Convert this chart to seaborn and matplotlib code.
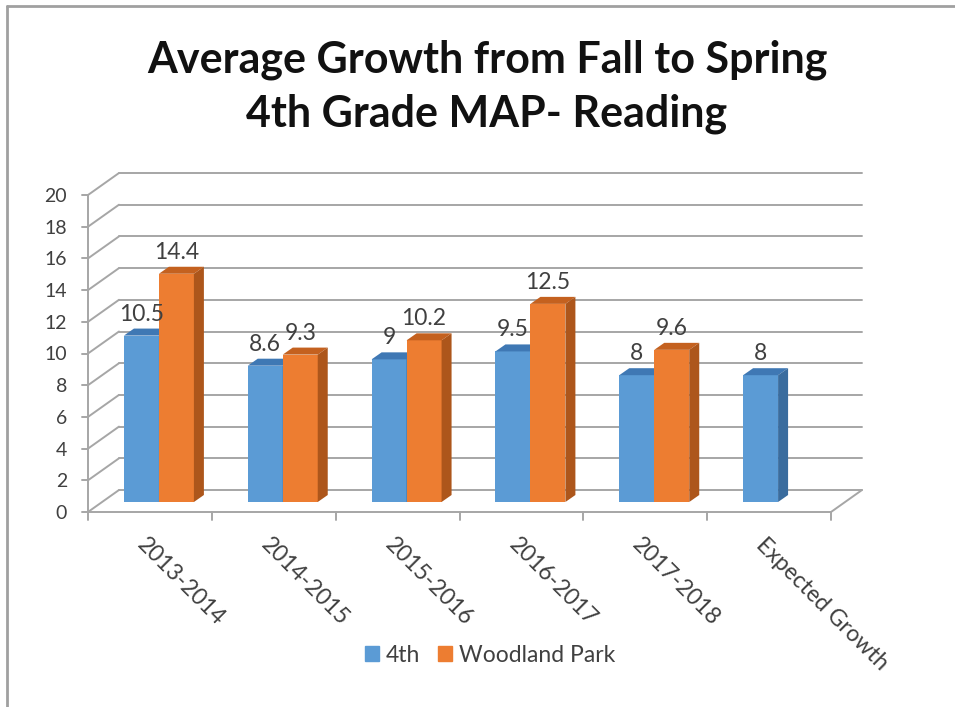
import matplotlib
matplotlib.use('Agg')
import matplotlib.pyplot as plt
from matplotlib.lines import Line2D
from matplotlib.patches import Polygon, Patch
from matplotlib.transforms import IdentityTransform
import seaborn as sns
import pandas as pd
import numpy as np

# donnees
categories = ['2013-2014', '2014-2015', '2015-2016', '2016-2017', '2017-2018', 'Expected Growth']
fourth = [10.5, 8.6, 9, 9.5, 8, 8]
woodland = [14.4, 9.3, 10.2, 12.5, 9.6, np.nan]
series_names = ['4th', 'Woodland Park']
yticks = list(range(0, 21, 2))

blue, orange = '#5b9bd5', '#ed7d31'
faces = {blue: ('#3f78b4', '#3a6c9e'), orange: ('#c4611f', '#ad561b')}
gray = '#a6a6a6'
txt = '#404040'

sns.set_style('white')
plt.rcParams['font.family'] = ['Lato', 'DejaVu Sans']

df = pd.DataFrame({
    'cat': categories * 2,
    'val': fourth + woodland,
    'serie': [series_names[0]] * len(categories) + [series_names[1]] * len(categories),
})

fig = plt.figure(figsize=(9.55, 7.07), dpi=100)
# plan des faces avant des barres
ax = fig.add_axes([97 / 955, 205 / 707, 743 / 955, 317 / 707])
sns.barplot(data=df, x='cat', y='val', hue='serie', palette=[blue, orange],
            width=0.565, saturation=1, errorbar=None, legend=False, ax=ax)
ax.set_xlim(-0.5, len(categories) - 0.5)
ax.set_ylim(0, 20)
ax.axis('off')

ident = IdentityTransform()
front_off = np.array([-9, -10])
back_off = np.array([22, 12])
depth = np.array([10, 7])


def P(x, y, off=(0, 0)):
    return ax.transData.transform((x, y)) + np.array(off)


def seg(p, q, z=1, color=gray, lw=1.4):
    ax.add_line(Line2D([p[0], q[0]], [p[1], q[1]], transform=ident, color=color,
                       lw=lw, clip_on=False, zorder=z))


x_lo, x_hi = -0.5, len(categories) - 0.5

# mur du fond et mur de gauche
for y in yticks:
    seg(P(x_lo, y, back_off), P(x_hi, y, back_off))
    seg(P(x_lo, y, front_off), P(x_lo, y, back_off))
    seg(P(x_lo, y, front_off) - np.array([6, 0]), P(x_lo, y, front_off))
    lab = P(x_lo, y, front_off) - np.array([21, 0])
    ax.text(lab[0], lab[1], str(y), transform=ident, ha='right', va='center_baseline',
            fontsize=14, color=txt, clip_on=False)
seg(P(x_lo, 0, front_off), P(x_lo, 20, front_off))

# sol
seg(P(x_lo, 0, front_off), P(x_hi, 0, front_off), z=5)
seg(P(x_hi, 0, front_off), P(x_hi, 0, back_off), z=5)
for k in range(len(categories) + 1):
    p = P(x_lo + k, 0, front_off)
    seg(p, p - np.array([0, 8]), z=5)

for i, c in enumerate(categories):
    a = P(i, 0, front_off) + np.array([-2, -22])
    ax.text(a[0], a[1], c, transform=ident, rotation=-45, rotation_mode='anchor',
            ha='left', va='top', fontsize=16.5, color=txt, clip_on=False)

# effet 3D des barres
for p in list(ax.patches):
    h = p.get_height()
    if not np.isfinite(h) or h <= 0:
        continue
    fc = matplotlib.colors.to_hex(p.get_facecolor())
    z = 3 if fc == blue else 4
    p.set_zorder(z)
    p.set_edgecolor('none')
    x0, w = p.get_x(), p.get_width()
    bl, br, tl, tr = P(x0, 0), P(x0 + w, 0), P(x0, h), P(x0 + w, h)
    top_c, side_c = faces[fc]
    ax.add_patch(Polygon([tl, tr, tr + depth, tl + depth], closed=True, transform=ident,
                         facecolor=top_c, edgecolor='none', zorder=z + 0.1, clip_on=False))
    ax.add_patch(Polygon([br, tr, tr + depth, br + depth], closed=True, transform=ident,
                         facecolor=side_c, edgecolor='none', zorder=z + 0.1, clip_on=False))
    lp = P(x0 + w / 2, h) + np.array([0, 15])
    ax.text(lp[0], lp[1], f'{h:g}', transform=ident, ha='center', va='baseline',
            fontsize=16.5, color=txt, clip_on=False, zorder=6)

# titre
fig.text(487 / 955, 1 - 72 / 707, 'Average Growth from Fall to Spring', ha='center',
         va='baseline', fontsize=31, fontweight='bold', color='#111111')
fig.text(487 / 955, 1 - 127 / 707, '4th Grade MAP- Reading', ha='center',
         va='baseline', fontsize=31, fontweight='bold', color='#111111')

# legende
handles = [Patch(color=blue), Patch(color=orange)]
fig.legend(handles, series_names, loc='center', bbox_to_anchor=(490 / 955, 1 - 655 / 707),
           ncol=2, frameon=False, fontsize=16.5, handlelength=0.6, handleheight=0.6,
           handletextpad=0.3, columnspacing=0.8, labelcolor=txt)

# bordure de la zone du graphique
fig.add_artist(Line2D([7 / 955, 1], [1 - 6 / 707, 1 - 6 / 707], transform=fig.transFigure,
                      color='#a0a0a0', lw=2))
fig.add_artist(Line2D([7 / 955, 7 / 955], [0, 1 - 6 / 707], transform=fig.transFigure,
                      color='#a0a0a0', lw=2))

fig.savefig('out.png', dpi=100)
